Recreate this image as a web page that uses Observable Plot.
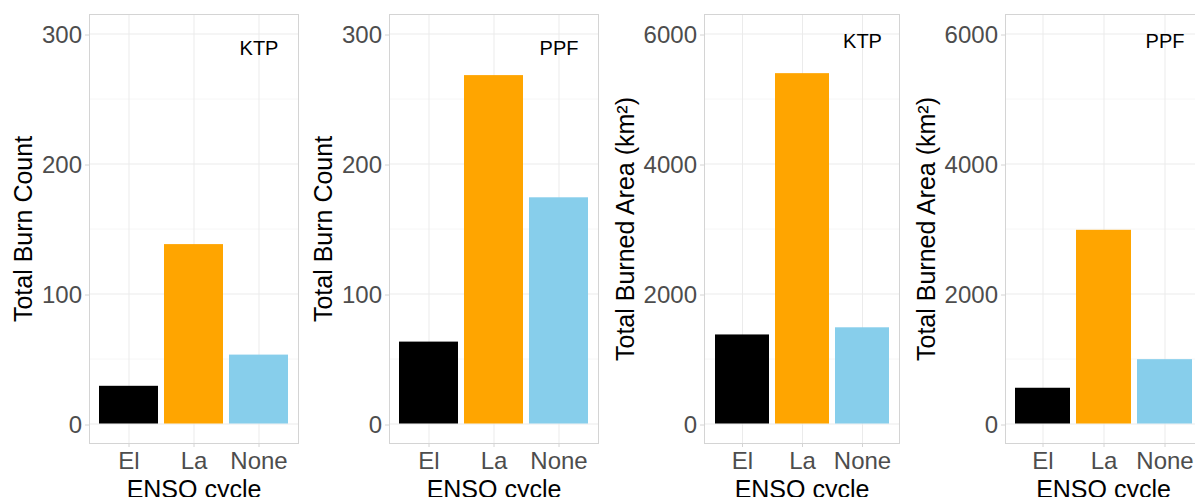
<!DOCTYPE html>
<html>
<head>
<meta charset="utf-8">
<script src="https://cdn.jsdelivr.net/npm/d3@7"></script>
<script src="https://cdn.jsdelivr.net/npm/@observablehq/plot@0.6"></script>
<style>
html, body { margin: 0; padding: 0; background: #fff; overflow: hidden; }
#wrap { position: relative; width: 1195px; height: 497px; overflow: hidden; background: #fff; }
#wrap > div { position: absolute; top: 0; }
#wrap svg { max-width: none !important; display: block; }
</style>
</head>
<body>
<div id="wrap"></div>
<script>
// ---- data ----
const categories = ["El", "La", "None"];
const barColors = ["#000000", "#FFA500", "#87CEEB"];
const burnCountKTP = [29, 138, 53];
const burnCountPPF = [63, 268, 174];
const burnedAreaKTP = [1370, 5390, 1480];
const burnedAreaPPF = [550, 2980, 990];
const countTicks = [0, 100, 200, 300];
const countMinorTicks = [50, 150, 250];
const areaTicks = [0, 2000, 4000, 6000];
const areaMinorTicks = [1000, 3000, 5000];
const regionLabels = ["KTP", "PPF", "KTP", "PPF"];
const regionLabelY = [289, 289, 5880, 5880];
const countTitle = "Total Burn Count";
const areaTitle = "Total Burned Area (km²)";
const xTitle = "ENSO cycle";

// ---- layout ----
const panels = [
  {values: burnCountKTP, ticks: countTicks, minor: countMinorTicks, limit: 300, title: countTitle, left: 0,   width: 300, ml: 89,  mr: 2, dx: -57.5},
  {values: burnCountPPF, ticks: countTicks, minor: countMinorTicks, limit: 300, title: countTitle, left: 300, width: 300, ml: 89,  mr: 2, dx: -57.5},
  {values: burnedAreaKTP, ticks: areaTicks, minor: areaMinorTicks, limit: 6000, title: areaTitle, left: 600, width: 300, ml: 104, mr: 1, dx: -71},
  {values: burnedAreaPPF, ticks: areaTicks, minor: areaMinorTicks, limit: 6000, title: areaTitle, left: 900, width: 302, ml: 105, mr: 1, dx: -71}
];

const wrap = document.getElementById("wrap");
const font = "'Liberation Sans', Arial, Helvetica, sans-serif";
const gridColor = "#ebebeb";
const borderColor = "#d4d4d4";

panels.forEach((p, k) => {
  const data = categories.map((c, i) => ({cat: c, value: p.values[i]}));
  const pad = p.limit * 0.05;
  const label = [{cat: "None", value: regionLabelY[k], text: regionLabels[k]}];
  const chart = Plot.plot({
    width: p.width,
    height: 497,
    marginLeft: p.ml,
    marginRight: p.mr,
    marginTop: 14,
    marginBottom: 54,
    style: {fontFamily: font, background: "white", overflow: "visible", maxWidth: "none"},
    x: {type: "band", domain: categories, paddingInner: 0.1, paddingOuter: 0.15, axis: null, label: null},
    y: {domain: [-pad, p.limit + pad], axis: null, label: null},
    color: {domain: categories, range: barColors},
    marks: [
      Plot.gridY(p.minor, {stroke: "#f4f4f4", strokeOpacity: 1, strokeWidth: 0.8}),
      Plot.gridY(p.ticks, {stroke: gridColor, strokeOpacity: 1, strokeWidth: 1}),
      Plot.gridX({stroke: gridColor, strokeOpacity: 1, strokeWidth: 1}),
      Plot.barY(data, {x: "cat", y: "value", fill: "cat", insetLeft: 0, insetRight: 0}),
      Plot.frame({stroke: borderColor, strokeWidth: 1}),
      Plot.axisY(p.ticks, {tickSize: 4, tickPadding: 3.5, fontSize: 24, stroke: borderColor, fill: "#4d4d4d", label: null, dy: 1, tickFormat: d => String(d)}),
      Plot.axisX({tickSize: 4, tickPadding: 4.3, fontSize: 24, stroke: borderColor, fill: "#4d4d4d", label: null}),
      Plot.text(label, {x: "cat", y: "value", text: "text", fontSize: 20, fill: "black"}),
      Plot.text([p.title], {frameAnchor: "left", rotate: -90, dx: p.dx, lineAnchor: "bottom", textAnchor: "middle", fontSize: 25, fill: "black", text: d => d}),
      Plot.text([xTitle], {frameAnchor: "bottom", dy: 54, lineAnchor: "bottom", fontSize: 25, fill: "black", text: d => d})
    ]
  });
  const holder = document.createElement("div");
  holder.style.left = p.left + "px";
  holder.style.width = p.width + "px";
  holder.appendChild(chart);
  wrap.appendChild(holder);
});
</script>
</body>
</html>
